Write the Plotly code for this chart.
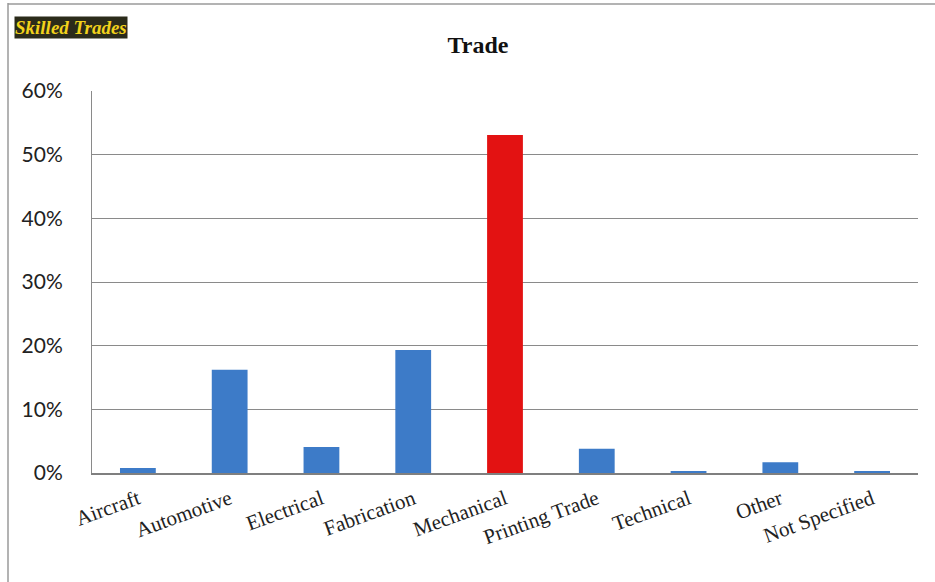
import plotly.graph_objects as go

categories = ["Aircraft", "Automotive", "Electrical", "Fabrication", "Mechanical",
              "Printing Trade", "Technical", "Other", "Not Specified"]
values = [0.8, 16.2, 4.1, 19.3, 53.1, 3.8, 0.2, 1.7, 0.3]
colors = ["#3d7bc8", "#3d7bc8", "#3d7bc8", "#3d7bc8", "#e31212",
          "#3d7bc8", "#3d7bc8", "#3d7bc8", "#3d7bc8"]
ytick_vals = [0, 10, 20, 30, 40, 50, 60]
ytick_text = ["0%", "10%", "20%", "30%", "40%", "50%", "60%"]

W, H = 935, 582
L, R, T, B = 92, 17, 91, 109
pw, ph = W - L - R, H - T - B

fig = go.Figure(go.Bar(x=categories, y=values, marker_color=colors,
                       marker_line_width=0, width=0.39))

def px_x(p):
    return (p - L) / pw

def px_y(p):
    return (H - B - p) / ph

fig.update_layout(
    width=W, height=H,
    margin=dict(l=L, r=R, t=T, b=B),
    paper_bgcolor="white", plot_bgcolor="white",
    showlegend=False,
    title=dict(text="<b>Trade</b>", x=(478) / W, xanchor="center", y=1 - 45 / H, yanchor="middle",
               font=dict(family="Liberation Serif, DejaVu Serif, serif", size=24, color="#111111")),
    xaxis=dict(showgrid=False, showline=True, linecolor="#7f7f7f", linewidth=1.5,
               tickangle=-20, ticks="", ticklabelstandoff=4,
               tickfont=dict(family="Liberation Serif, DejaVu Serif, serif",
                             size=21, color="#222222")),
    yaxis=dict(range=[0, 60], tickvals=ytick_vals, ticktext=ytick_text,
               showgrid=True, gridcolor="#8a8a8a", gridwidth=1,
               showline=True, linecolor="#8a8a8a", linewidth=1, zeroline=False,
               ticks="", ticklabelstandoff=24,
               tickfont=dict(family="Lato, Open Sans, sans-serif", size=21, color="#222222")),
    shapes=[
        dict(type="line", xref="paper", yref="paper", x0=px_x(8), x1=px_x(8), y0=px_y(3), y1=px_y(582),
             line=dict(color="#9a9a9a", width=1.5)),
        dict(type="line", xref="paper", yref="paper", x0=px_x(8), x1=px_x(935), y0=px_y(4), y1=px_y(4),
             line=dict(color="#9a9a9a", width=1.5)),
    ],
    annotations=[
        dict(text="<b><i>Skilled Trades</i></b>", xref="paper", yref="paper",
             x=px_x(14), y=px_y(27), xanchor="left", yanchor="middle", showarrow=False,
             font=dict(family="Liberation Serif, serif", size=19, color="#f2d21b"),
             bgcolor="#2b2b1a", borderpad=0),
    ],
)

fig.write_html("out.html")
